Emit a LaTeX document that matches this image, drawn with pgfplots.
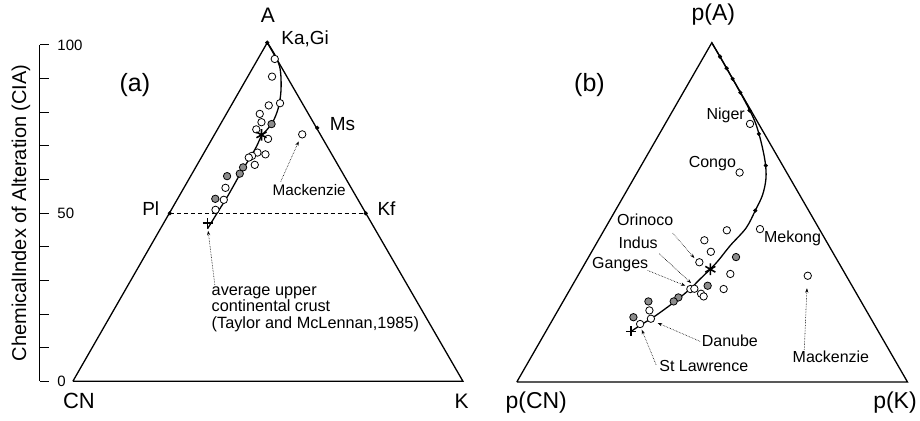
\documentclass[border=0pt]{standalone}
\usepackage{pgfplots}
\pgfplotsset{compat=1.18}
\usepackage{fontspec}
\setmainfont{Liberation Sans}
\usetikzlibrary{arrows.meta}
\newcommand{\fs}[1]{\fontsize{#1bp}{#1bp}\selectfont}
\definecolor{greyfill}{RGB}{140,140,140}

\pgfplotsset{
  opencirc/.style={only marks, mark=*, mark size=3.7bp,
    mark options={fill=white, draw=black, line width=0.8bp}},
  greycirc/.style={only marks, mark=*, mark size=3.7bp,
    mark options={fill=greyfill, draw=black, line width=0.8bp}},
  edge/.style={line width=1.3bp, black},
  trend/.style={smooth, tension=0.55, line width=1.3bp, black},
  pointer/.style={densely dotted, line width=0.6bp, black,
    -{Stealth[length=4.5bp, width=3.2bp]}},
  vdot/.style={only marks, mark=*, mark size=1.9bp, black},
  starmark/.style={only marks, mark=asterisk, mark size=5.8bp, line width=1.6bp, black},
  plusmark/.style={only marks, mark=+, mark size=5bp, line width=1.7bp, black},
}

\begin{document}
\begin{tikzpicture}
\begin{axis}[
  scale only axis, width=920bp, height=421bp,
  xmin=0, xmax=920, ymin=0, ymax=421, y dir=reverse,
  hide axis, clip=false,
]
% frame of the whole figure
\addplot[draw=none] coordinates {(0,0) (920,421)};

% ---------------- (a) A-CN-K diagram ----------------
\addplot[edge] coordinates {(73,381.5) (267.5,42.7) (463.3,381.5) (73,381.5)};
\addplot[dashed, line width=0.7bp, dash pattern=on 4bp off 3bp] coordinates {(170,213.5) (366,213.5)};
\addplot[vdot] coordinates {(267.5,42.7) (170,213.5) (366,213.5) (317.5,128)};

% weathering trend
\addplot[trend] coordinates {
  (267.7,42.7) (272,49.5) (276.5,57.5) (280,67) (281.3,79) (281,94)
  (278.3,109) (273.3,121.5) (266.7,130.5) (261.7,136) (256.7,146.7)
  (250,158.3) (241.7,171.7) (234.3,185) (226.7,198.3) (218.3,211.7)
  (211.7,222.5) (207.7,229)};

% river sediments
\addplot[opencirc] coordinates {
  (275,59) (272.3,76.7) (269,105.5) (280.3,103.3) (260,114) (261.7,122.3)
  (256.5,129.5) (268.3,139) (257.7,152.7) (265.7,154.5) (252.3,156)
  (249,157.7) (255,165) (225.7,188) (224,200) (215.7,210) (302.5,134.5)};
\addplot[greycirc] coordinates {
  (271.8,124.2) (227.3,176.3) (240,173.8) (243.3,167.5) (215.5,199)};

\addplot[starmark] coordinates {(261.7,135)};
\addplot[plusmark] coordinates {(207.7,223.3)};

\addplot[pointer] coordinates {(281,181.7) (299,141.5)};
\addplot[pointer] coordinates {(215,285) (208.3,231)};

\node[font=\fs{21}, anchor=mid] at (axis cs:268,20) {A};
\node[font=\fs{22}, anchor=mid] at (axis cs:79,406) {CN};
\node[font=\fs{21}, anchor=mid] at (axis cs:462,406) {K};
\node[font=\fs{25}, anchor=mid] at (axis cs:135,89) {(a)};
\node[font=\fs{19}, anchor=mid west, inner sep=0] at (axis cs:281.5,42) {Ka,Gi};
\node[font=\fs{19}, anchor=mid west, inner sep=0] at (axis cs:330,128) {Ms};
\node[font=\fs{19}, anchor=mid east, inner sep=0] at (axis cs:159.5,213) {Pl};
\node[font=\fs{19}, anchor=mid west, inner sep=0] at (axis cs:377.7,213) {Kf};
\node[font=\fs{15.3}, anchor=mid] at (axis cs:309.5,193) {Mackenzie};
\node[font=\fs{16.3}, anchor=north west, inner sep=0, align=left]
  at (axis cs:211.7,287) {\fontsize{16.3bp}{17.5bp}\selectfont average upper\\continental crust\\(Taylor and McLennan,1985)};
\node[font=\fs{20}, rotate=90, anchor=center] at (axis cs:21,213)
  {ChemicalIndex of Alteration (CIA)};

% ---------------- (b) predicted compositions ----------------
\addplot[edge] coordinates {(517.3,382.3) (712.5,42.7) (908.3,382.3) (517.3,382.3)};

\addplot[trend] coordinates {
  (712.5,43) (720.7,56.7) (727.3,68.3) (733.3,79) (741,92.7) (750.2,110)
  (756.5,124) (761.7,141.7) (765.8,161.7) (766.7,178.3) (763.3,195)
  (756,210.7) (746.7,228.3) (731,245.7) (719,260.7) (711,269.3)
  (700,280) (691.7,288.3) (680,298.3) (670,306) (660,313.3)
  (651.7,319) (641.7,325) (631.7,331.7)};
\addplot[vdot] coordinates {
  (720.7,56.7) (727.3,68.3) (733.3,79) (741,92.7) (750.2,110.5)
  (759.5,134) (766.5,165.7) (756,210.7)};

\addplot[opencirc] coordinates {
  (750.7,124) (740.3,172.7) (727.5,230.5) (760.7,229.3) (705,240.5)
  (711.5,252) (700,262.5) (731,274.2) (808.5,276) (691,289.3) (695,289)
  (724.3,289.3) (701.7,294) (704.3,296.7) (650,310.7) (651.5,319)
  (640.7,324.3)};
\addplot[greycirc] coordinates {
  (736.7,257.3) (708.3,286) (679,297.7) (674.3,301.7) (649,301.7) (634,317.5)};

\addplot[starmark] coordinates {(711,269.5)};
\addplot[plusmark] coordinates {(631.5,331.7)};

\addplot[pointer] coordinates {(673.3,233.3) (695,258.3)};
\addplot[pointer] coordinates {(660,254) (691.7,283.3)};
\addplot[pointer] coordinates {(648.3,270.7) (686,286)};
\addplot[pointer] coordinates {(700.7,341.7) (658.3,323.3)};
\addplot[pointer] coordinates {(656.7,365) (642.3,330)};
\addplot[pointer] coordinates {(805,350) (807.7,288.5)};

\node[font=\fs{23}, anchor=mid] at (axis cs:714,18) {p(A)};
\node[font=\fs{23}, anchor=mid] at (axis cs:536.7,406) {p(CN)};
\node[font=\fs{23}, anchor=mid] at (axis cs:895.8,406) {p(K)};
\node[font=\fs{25}, anchor=mid] at (axis cs:590,89) {(b)};
\node[font=\fs{16}, anchor=mid] at (axis cs:726.3,116.5) {Niger};
\node[font=\fs{16}, anchor=mid] at (axis cs:713,165) {Congo};
\node[font=\fs{16}, anchor=mid] at (axis cs:645.8,223.5) {Orinoco};
\node[font=\fs{16}, anchor=mid] at (axis cs:638.7,246) {Indus};
\node[font=\fs{16}, anchor=mid] at (axis cs:620.8,266) {Ganges};
\node[font=\fs{16}, anchor=mid] at (axis cs:793.3,240) {Mekong};
\node[font=\fs{16}, anchor=mid] at (axis cs:730.5,344.5) {Danube};
\node[font=\fs{16}, anchor=mid] at (axis cs:704.5,369.5) {St Lawrence};
\node[font=\fs{16}, anchor=mid] at (axis cs:831.7,360.5) {Mackenzie};
\end{axis}

% CIA scale beside diagram (a)
\begin{axis}[
  at={(40bp,39.5bp)}, anchor=south west,
  scale only axis, width=10bp, height=336.5bp,
  xmin=0, xmax=1, ymin=0, ymax=100,
  axis x line=none, axis y line*=left,
  y axis line style={-, line width=1bp},
  ytick={0,50,100}, yticklabels={0,50,100},
  minor ytick={10,20,30,40,60,70,80,90},
  tick align=inside, major tick length=9bp, minor tick length=9bp,
  every tick/.style={line width=1bp, black},
  every minor tick/.style={line width=0.8bp, black},
  yticklabel style={font=\fs{15}, anchor=west, xshift=14bp},
  /pgf/number format/assume math mode=true,
]
\end{axis}
\end{tikzpicture}
\end{document}
